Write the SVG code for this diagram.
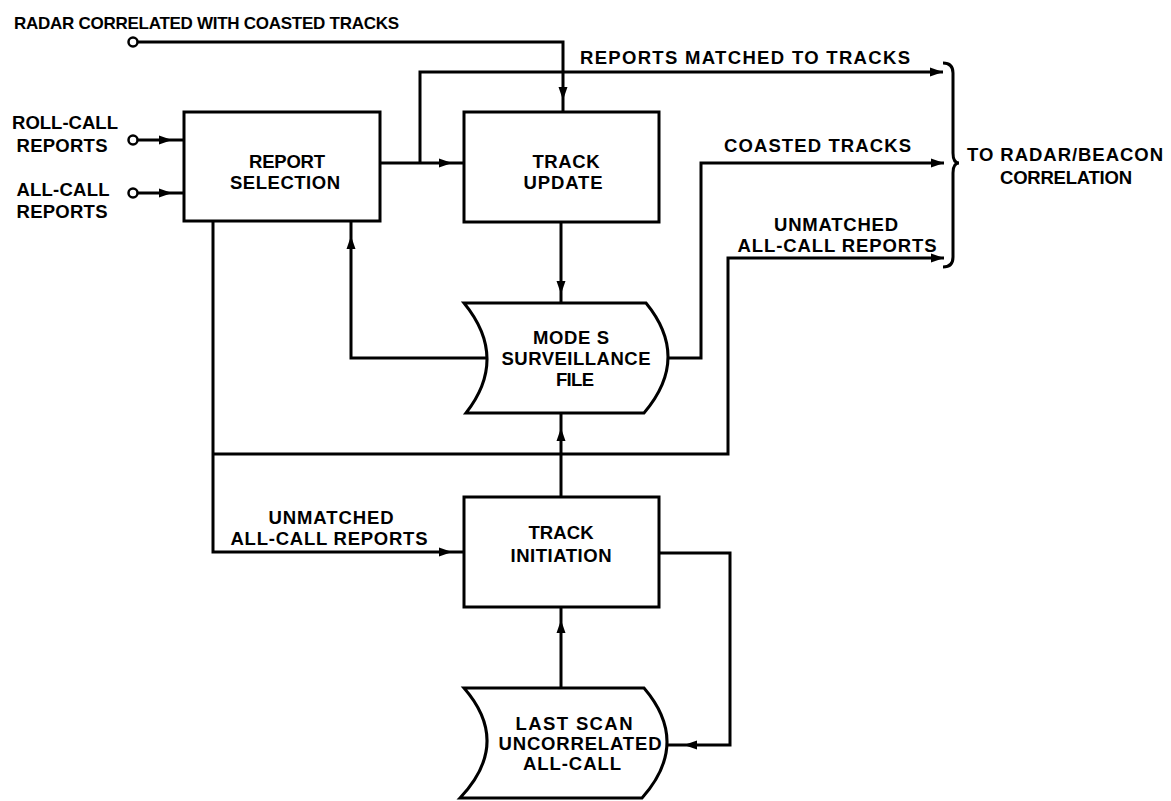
<svg xmlns="http://www.w3.org/2000/svg" xmlns:xlink="http://www.w3.org/1999/xlink" width="1171" height="801" viewBox="0 0 1171 801">
<style>
.t{font-family:"Liberation Sans",Arial,sans-serif;font-weight:bold;font-size:18.5px;fill:#000}
.h{font-size:17px}
.m{text-anchor:middle}
.b{fill:#fff;stroke:#000;stroke-width:3}
.w{fill:none;stroke:#000;stroke-width:3;stroke-linejoin:miter}
.c{fill:#fff;stroke:#000;stroke-width:2.5}
</style>
<defs>
<path id="ah" d="M0,0 L-13,-4.5 L-13,4.5 Z" fill="#000"/>
</defs>
<rect width="1171" height="801" fill="#fff"/>
<g id="connectors">
<path class="w" d="M137,42 H563 V112"/>
<path class="w" d="M137,140 H184"/>
<path class="w" d="M137,193 H184"/>
<path class="w" d="M380,163 H464"/>
<path class="w" d="M420,163 V72 H943"/>
<path class="w" d="M561,222 V303"/>
<path class="w" d="M487,358 H351 V222"/>
<path class="w" d="M668,358 H701 V163 H944"/>
<path class="w" d="M213,221 V552 H464"/>
<path class="w" d="M213,454 H728 V258 H944"/>
<path class="w" d="M561,497 V413"/>
<path class="w" d="M561,688 V607"/>
<path class="w" d="M659,553 H730 V745 H667"/>
<circle class="c" cx="133" cy="42" r="4.5"/>
<circle class="c" cx="133" cy="140" r="4.5"/>
<circle class="c" cx="133" cy="193" r="4.5"/>
<use xlink:href="#ah" transform="translate(563,100) rotate(90)"/>
<use xlink:href="#ah" transform="translate(172,140)"/>
<use xlink:href="#ah" transform="translate(172,193)"/>
<use xlink:href="#ah" transform="translate(452,163)"/>
<use xlink:href="#ah" transform="translate(943,72)"/>
<use xlink:href="#ah" transform="translate(944,163)"/>
<use xlink:href="#ah" transform="translate(944,258)"/>
<use xlink:href="#ah" transform="translate(561,294) rotate(90)"/>
<use xlink:href="#ah" transform="translate(351,236) rotate(-90)"/>
<use xlink:href="#ah" transform="translate(561,428) rotate(-90)"/>
<use xlink:href="#ah" transform="translate(452,552)"/>
<use xlink:href="#ah" transform="translate(561,620) rotate(-90)"/>
<use xlink:href="#ah" transform="translate(684,745) rotate(180)"/>
<path class="w" d="M943,63 Q953,63 953,73 V153 Q953,163 959,163 Q953,163 953,173 V257 Q953,267 943,267"/>
</g>
<g id="labels">
<text class="t h" x="14" y="29" textLength="385" lengthAdjust="spacing">RADAR CORRELATED WITH COASTED TRACKS</text>
<text class="t" x="580" y="64" textLength="330" lengthAdjust="spacing">REPORTS MATCHED TO TRACKS</text>
<text class="t" x="724" y="152" textLength="187" lengthAdjust="spacing">COASTED TRACKS</text>
<text class="t m" x="836" y="231" textLength="124" lengthAdjust="spacing">UNMATCHED</text>
<text class="t m" x="837" y="252" textLength="199" lengthAdjust="spacing">ALL-CALL REPORTS</text>
<text class="t m" x="1065" y="161" textLength="196" lengthAdjust="spacing">TO RADAR/BEACON</text>
<text class="t m" x="1066" y="184" textLength="132" lengthAdjust="spacing">CORRELATION</text>
<text class="t m" x="65" y="129" textLength="106" lengthAdjust="spacing">ROLL-CALL</text>
<text class="t m" x="62" y="152" textLength="91" lengthAdjust="spacing">REPORTS</text>
<text class="t m" x="63" y="196" textLength="93" lengthAdjust="spacing">ALL-CALL</text>
<text class="t m" x="62" y="218" textLength="91" lengthAdjust="spacing">REPORTS</text>
<text class="t m" x="331" y="524" textLength="125" lengthAdjust="spacing">UNMATCHED</text>
<text class="t m" x="329" y="545" textLength="197" lengthAdjust="spacing">ALL-CALL REPORTS</text>
</g>
<g id="report-selection">
<rect class="b" x="184" y="112" width="196" height="109"/>
<text class="t m" x="287" y="168" textLength="76" lengthAdjust="spacing">REPORT</text>
<text class="t m" x="285" y="189" textLength="110" lengthAdjust="spacing">SELECTION</text>
</g>
<g id="track-update">
<rect class="b" x="464" y="112" width="195" height="110"/>
<text class="t m" x="566" y="168" textLength="67" lengthAdjust="spacing">TRACK</text>
<text class="t m" x="563" y="189" textLength="79" lengthAdjust="spacing">UPDATE</text>
</g>
<g id="mode-s-file">
<path class="b" d="M464,303 Q509,358 466,413 L644,413 Q691,358 646,303 Z"/>
<text class="t m" x="571" y="344" textLength="76" lengthAdjust="spacing">MODE S</text>
<text class="t m" x="576" y="365" textLength="149" lengthAdjust="spacing">SURVEILLANCE</text>
<text class="t m" x="575" y="386" textLength="38" lengthAdjust="spacing">FILE</text>
</g>
<g id="track-initiation">
<rect class="b" x="464" y="497" width="195" height="110"/>
<text class="t m" x="561" y="539" textLength="65" lengthAdjust="spacing">TRACK</text>
<text class="t m" x="561" y="562" textLength="101" lengthAdjust="spacing">INITIATION</text>
</g>
<g id="last-scan">
<path class="b" d="M464,688 Q512,743 460,798 L642,798 Q691,743 644,688 Z"/>
<text class="t m" x="574" y="730" textLength="117" lengthAdjust="spacing">LAST SCAN</text>
<text class="t m" x="580" y="750" textLength="163" lengthAdjust="spacing">UNCORRELATED</text>
<text class="t m" x="572" y="770" textLength="98" lengthAdjust="spacing">ALL-CALL</text>
</g>
</svg>
